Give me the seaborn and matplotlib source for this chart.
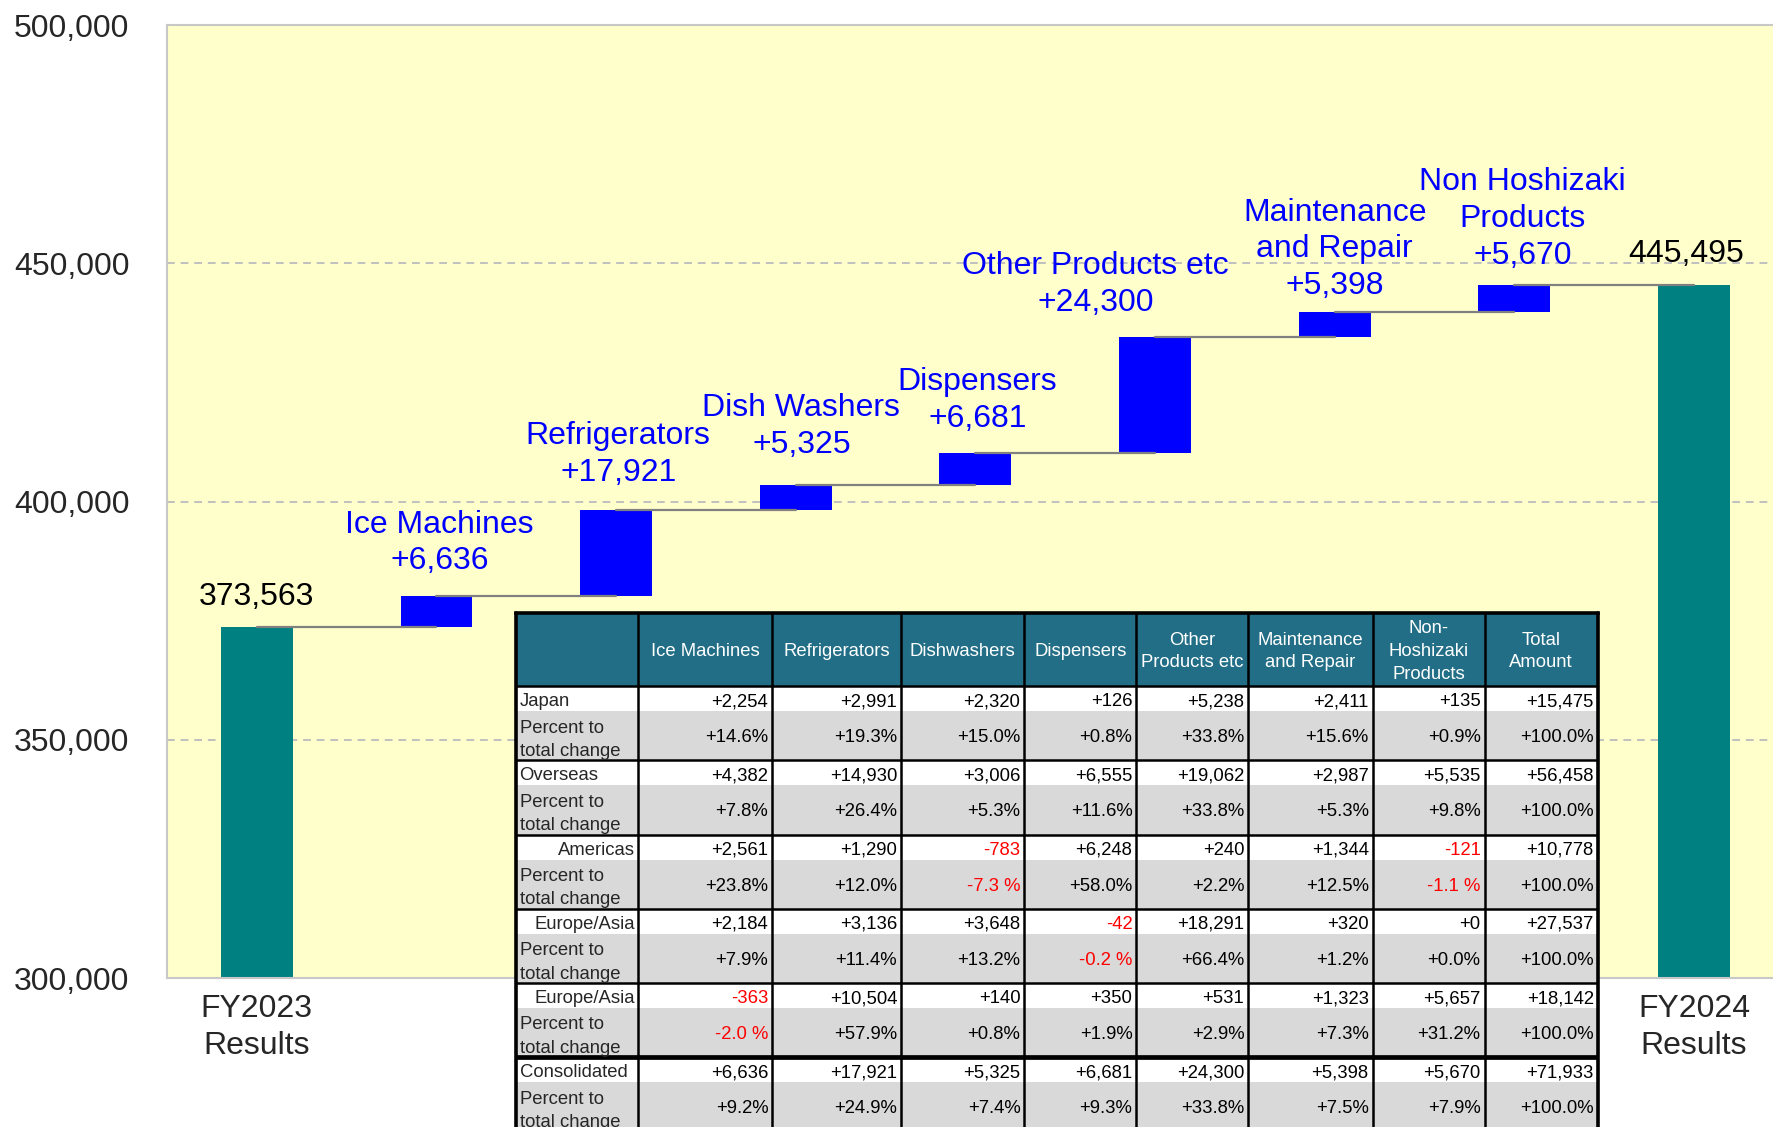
import matplotlib
matplotlib.use("Agg")
import matplotlib.pyplot as plt
import seaborn as sns
import pandas as pd
from matplotlib.patches import Rectangle

# waterfall data
steps = ["FY2023\nResults", "Ice Machines", "Refrigerators", "Dish Washers", "Dispensers",
         "Other Products etc", "Maintenance\nand Repair", "Non Hoshizaki\nProducts",
         "FY2024\nResults"]
fy2023_total = 373563
fy2024_total = 445495
step_changes = [6636, 17921, 5325, 6681, 24300, 5398, 5670]

# table data
table_cols = ["Ice Machines", "Refrigerators", "Dishwashers", "Dispensers",
              "Other\nProducts etc", "Maintenance\nand Repair", "Non-\nHoshizaki\nProducts",
              "Total\nAmount"]
row_names = ["Japan", "Overseas", "Americas", "Europe/Asia", "Europe/Asia", "Consolidated"]
japan = [2254, 2991, 2320, 126, 5238, 2411, 135, 15475]
japan_pct = [14.6, 19.3, 15.0, 0.8, 33.8, 15.6, 0.9, 100.0]
overseas = [4382, 14930, 3006, 6555, 19062, 2987, 5535, 56458]
overseas_pct = [7.8, 26.4, 5.3, 11.6, 33.8, 5.3, 9.8, 100.0]
americas = [2561, 1290, -783, 6248, 240, 1344, -121, 10778]
americas_pct = [23.8, 12.0, -7.3, 58.0, 2.2, 12.5, -1.1, 100.0]
europe_asia = [2184, 3136, 3648, -42, 18291, 320, 0, 27537]
europe_asia_pct = [7.9, 11.4, 13.2, -0.2, 66.4, 1.2, 0.0, 100.0]
europe_asia2 = [-363, 10504, 140, 350, 531, 1323, 5657, 18142]
europe_asia2_pct = [-2.0, 57.9, 0.8, 1.9, 2.9, 7.3, 31.2, 100.0]
consolidated = [6636, 17921, 5325, 6681, 24300, 5398, 5670, 71933]
consolidated_pct = [9.2, 24.9, 7.4, 9.3, 33.8, 7.5, 7.9, 100.0]

# label nudges in points (dx, dy) so the callouts sit like the original
label_offsets = {"Ice Machines": (2, 14), "Refrigerators": (1.5, 16), "Dish Washers": (4, 18),
                 "Dispensers": (1.5, 14), "Other Products etc": (-43, 14),
                 "Maintenance\nand Repair": (0, 7.5), "Non Hoshizaki\nProducts": (6, 10)}

sns.set_theme(style="white")
plt.rcParams["font.family"] = ["Liberation Sans", "DejaVu Sans"]

fig = plt.figure(figsize=(17.73, 11.27), dpi=100)
ax = fig.add_axes([0.0942, 0.1322, 0.9119, 0.8456])
ax.set_facecolor("#FFFFCC")

totals = pd.DataFrame({"step": [steps[0], steps[-1]], "value": [fy2023_total, fy2024_total]})
deltas = pd.DataFrame({"step": steps[1:-1], "value": step_changes})
bases = [fy2023_total + sum(step_changes[:i]) for i in range(len(step_changes))]
tops = [b + d for b, d in zip(bases, step_changes)]

sns.barplot(data=totals, x="step", y="value", order=steps, color="#008080", width=0.4,
            errorbar=None, saturation=1, linewidth=0, ax=ax, zorder=2)
sns.barplot(data=deltas, x="step", y="value", order=steps, color="#0000FF", width=0.4,
            errorbar=None, saturation=1, linewidth=0, bottom=bases, ax=ax, zorder=2)

# connector lines, centre of one bar to centre of the next
levels = [fy2023_total] + tops
for i, lvl in enumerate(levels):
    ax.plot([i, i + 1], [lvl, lvl], color="#808080", lw=1.6, zorder=3)

ax.annotate(f"{fy2023_total:,}", (0, fy2023_total), xytext=(0, 11.5), textcoords="offset points",
            ha="center", va="bottom", fontsize=23, color="black")
ax.annotate(f"{fy2024_total:,}", (8, fy2024_total), xytext=(-6, 11.5), textcoords="offset points",
            ha="center", va="bottom", fontsize=23, color="black")
for i, (name, d, top) in enumerate(zip(steps[1:-1], step_changes, tops), start=1):
    ax.annotate(f"{name}\n+{d:,}", (i, top), xytext=label_offsets[name],
                textcoords="offset points", ha="center", va="bottom",
                multialignment="center", fontsize=23, color="#0000FF", linespacing=1.3)

ax.set_xlim(-0.5, 8.5)
ax.set_ylim(300000, 500000)
yt = [300000, 350000, 400000, 450000, 500000]
ax.set_yticks(yt)
ax.set_yticklabels([f"{v:,}" for v in yt])
ax.set_xticks([0, 8])
ax.set_xticklabels([steps[0], steps[-1]], linespacing=1.3)
ax.tick_params(axis="y", length=0, pad=27, labelsize=23)
ax.tick_params(axis="x", length=0, pad=11.5, labelsize=23)
ax.set_xlabel("")
ax.set_ylabel("")
ax.yaxis.grid(True, linestyle=(0, (4, 3)), color="#C0C0C0", lw=1.4)
ax.set_axisbelow(True)
for side in ["left", "top", "bottom"]:
    ax.spines[side].set_color("#C8C8C8")
    ax.spines[side].set_linewidth(1.5)
ax.spines["right"].set_visible(False)

# table drawn in figure pixel space
tab = fig.add_axes([0, 0, 1, 1], zorder=5)
tab.set_xlim(0, 1773)
tab.set_ylim(1127, 0)
tab.axis("off")

col_edges = [515.6, 637.7, 772.3, 901.2, 1024.4, 1136.4, 1248.3, 1372.7, 1484.6, 1597.7]
table_top = 612.8
header_h = 73.4
value_h = 25.0
group_h = 74.2
left, right = col_edges[0], col_edges[-1]
bottom = 1140

tab.add_patch(Rectangle((left, table_top), right - left, header_h, facecolor="#216E86",
                        edgecolor="none"))
groups = [(japan, japan_pct), (overseas, overseas_pct), (americas, americas_pct),
          (europe_asia, europe_asia_pct), (europe_asia2, europe_asia2_pct),
          (consolidated, consolidated_pct)]

for j, col in enumerate(table_cols):
    cx = (col_edges[j + 1] + col_edges[j + 2]) / 2
    tab.text(cx, table_top + header_h / 2 + 2, col, ha="center", va="center",
             multialignment="center", color="white", fontsize=13.3, linespacing=1.45)


def fmt_val(v):
    return f"+{v:,}" if v >= 0 else f"-{abs(v):,}"


def fmt_pct(v):
    return f"+{v:.1f}%" if v >= 0 else f"-{abs(v):.1f} %"


for g, (name, (vals, pcts)) in enumerate(zip(row_names, groups)):
    y0 = table_top + header_h + g * group_h
    tab.add_patch(Rectangle((left, y0), right - left, value_h, facecolor="white",
                            edgecolor="none"))
    tab.add_patch(Rectangle((left, y0 + value_h), right - left, group_h - value_h,
                            facecolor="#D9D9D9", edgecolor="none"))
    yv = y0 + value_h / 2 + 3
    yp = y0 + value_h + (group_h - value_h) / 2 + 2
    if name in ("Americas", "Europe/Asia"):
        tab.text(col_edges[1] - 3, yv, name, ha="right", va="center", fontsize=13.3)
    else:
        tab.text(left + 4, yv, name, ha="left", va="center", fontsize=13.3)
    tab.text(left + 4, yp + 2, "Percent to\ntotal change", ha="left", va="center",
             fontsize=13.3, linespacing=1.5)
    for j, (v, p) in enumerate(zip(vals, pcts)):
        xr = col_edges[j + 2] - 4
        tab.text(xr, yv, fmt_val(v), ha="right", va="center", fontsize=13.3,
                 color="#FF0000" if v < 0 else "black")
        tab.text(xr, yp, fmt_pct(p), ha="right", va="center", fontsize=13.3,
                 color="#FF0000" if p < 0 else "black")
    lw = 3.4 if name == "Consolidated" else 1.8
    tab.plot([left, right], [y0, y0], color="black", lw=lw, solid_capstyle="butt")

for x in col_edges[1:-1]:
    tab.plot([x, x], [table_top, bottom], color="black", lw=1.8)
tab.plot([left, right], [table_top, table_top], color="black", lw=2.6, solid_capstyle="projecting")
tab.plot([left, left], [table_top, bottom], color="black", lw=2.6)
tab.plot([right, right], [table_top, bottom], color="black", lw=2.6)

fig.savefig("out.png", dpi=100)
